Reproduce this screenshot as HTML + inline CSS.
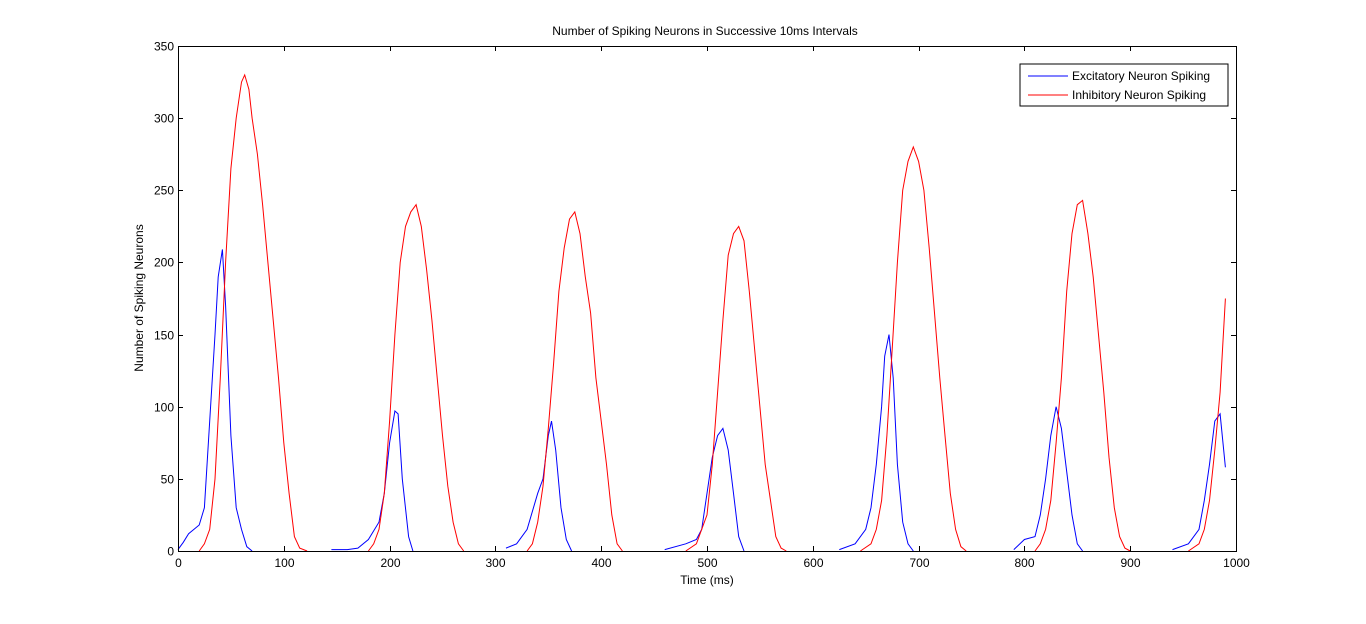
<!DOCTYPE html>
<html><head><meta charset="utf-8"><style>
body{margin:0;background:#fff;width:1366px;height:619px;overflow:hidden}
svg text{font-family:"Liberation Sans",sans-serif;font-size:12px;fill:#000}
</style></head><body>
<svg id="chart" width="1366" height="619" xmlns="http://www.w3.org/2000/svg">
<rect x="0" y="0" width="1366" height="619" fill="#fff"/>
<rect x="178" y="46" width="1058" height="505" fill="#fff"/>
<g id="series"></g>
<g id="axes"></g>
<text x="705" y="35" text-anchor="middle">Number of Spiking Neurons in Successive 10ms Intervals</text>
<text x="707" y="584" text-anchor="middle">Time (ms)</text>
<text x="143" y="298" text-anchor="middle" transform="rotate(-90 143 298)">Number of Spiking Neurons</text>
<g>
<rect x="1020" y="64" width="208" height="42" fill="#fff" stroke="#000"/>
<line x1="1028" y1="76" x2="1068" y2="76" stroke="#0000ff"/>
<text x="1072" y="80">Excitatory Neuron Spiking</text>
<line x1="1028" y1="95" x2="1068" y2="95" stroke="#ff0000"/>
<text x="1072" y="99">Inhibitory Neuron Spiking</text>
</g>
</svg>
<script>
const xTicks=[0,100,200,300,400,500,600,700,800,900,1000];
const yTicks=[0,50,100,150,200,250,300,350];
const exT=[0,5,10,15,20,25,30,35,38,42,45,50,55,60,65,70,null,145,160,170,180,190,195,200,205,208,212,218,222,null,310,320,330,340,345,350,353,357,362,367,372,null,460,480,490,495,500,505,510,515,520,525,530,535,null,625,640,650,655,660,665,668,672,676,680,685,690,695,null,790,800,810,815,820,825,830,835,840,845,850,855,null,940,955,965,970,975,980,985,990];
const exV=[1,6,12,15,18,30,90,150,190,209,170,80,30,15,3,0,null,1,1,2,8,20,40,75,97,95,50,10,0,null,2,5,15,40,50,80,90,70,30,8,0,null,1,5,8,15,40,65,80,85,70,40,10,0,null,1,5,15,30,60,100,135,150,120,60,20,5,0,null,1,8,10,25,50,80,100,85,55,25,5,0,null,1,5,15,35,60,90,95,58];
const inT=[20,25,30,35,40,45,50,55,60,63,67,70,75,80,85,90,95,100,105,110,115,122,null,180,185,190,195,200,205,210,215,220,225,230,235,240,245,250,255,260,265,270,null,330,335,340,345,350,355,360,365,370,375,380,385,390,395,400,405,410,415,420,null,480,490,500,505,510,515,520,525,530,535,540,545,550,555,560,565,570,575,null,645,655,660,665,670,675,680,685,690,695,700,705,710,715,720,725,730,735,740,745,null,810,815,820,825,830,835,840,845,850,855,860,865,870,875,880,885,890,895,900,null,955,965,970,975,980,985,990];
const inV=[0,5,15,50,120,200,265,300,325,330,320,300,275,240,200,160,120,75,40,10,2,0,null,0,5,15,40,90,150,200,225,235,240,225,195,160,120,80,45,20,5,0,null,0,5,20,45,85,130,180,210,230,235,220,190,165,120,90,60,25,5,0,null,0,5,25,60,110,160,205,220,225,215,180,140,100,60,35,10,2,0,null,0,5,15,35,80,140,200,250,270,280,270,250,210,165,120,80,40,15,3,0,null,0,5,15,35,75,120,180,220,240,243,220,190,150,110,65,30,10,2,0,null,0,5,15,35,70,110,175];
const X0=178,X1=1236,Y0=551,Y1=46;
const sx=t=>X0+(t-0)/(1000)*(X1-X0);
const sy=v=>Y0-v/350*(Y0-Y1);
const NS="http://www.w3.org/2000/svg";
function mk(tag,attrs,parent){const e=document.createElementNS(NS,tag);for(const k in attrs)e.setAttribute(k,attrs[k]);parent.appendChild(e);return e;}
function path(T,V){let d="",pen=false;for(let i=0;i<T.length;i++){if(T[i]===null){pen=false;continue;}d+=(pen?"L":"M")+sx(T[i]).toFixed(1)+" "+sy(V[i]).toFixed(1);pen=true;}return d;}
const sg=document.getElementById('series');
const pe=mk('path',{d:path(exT,exV),fill:'none',stroke:'#0000ff','stroke-width':1},sg);


const pi=mk('path',{d:path(inT,inV),fill:'none',stroke:'#ff0000','stroke-width':1},sg);


const ag=document.getElementById('axes');
const box=mk('rect',{x:X0+0.5,y:Y1+0.5,width:X1-X0,height:Y0-Y1,fill:'none',stroke:'#000'},ag);


xTicks.forEach(t=>{const x=Math.round(sx(t))+0.5;
mk('line',{x1:x,y1:Y0,x2:x,y2:Y0-5,stroke:'#000'},ag);
mk('line',{x1:x,y1:Y1,x2:x,y2:Y1+5,stroke:'#000'},ag);
const tx=mk('text',{x:x,y:Y0+16,'text-anchor':'middle'},ag);tx.textContent=t;

});
yTicks.forEach(v=>{const y=Math.round(sy(v))+0.5;
mk('line',{x1:X0,y1:y,x2:X0+5,y2:y,stroke:'#000'},ag);
mk('line',{x1:X1,y1:y,x2:X1-5,y2:y,stroke:'#000'},ag);
const tx=mk('text',{x:X0-4,y:y+4,'text-anchor':'end'},ag);tx.textContent=v;

});
</script>
</body></html>
